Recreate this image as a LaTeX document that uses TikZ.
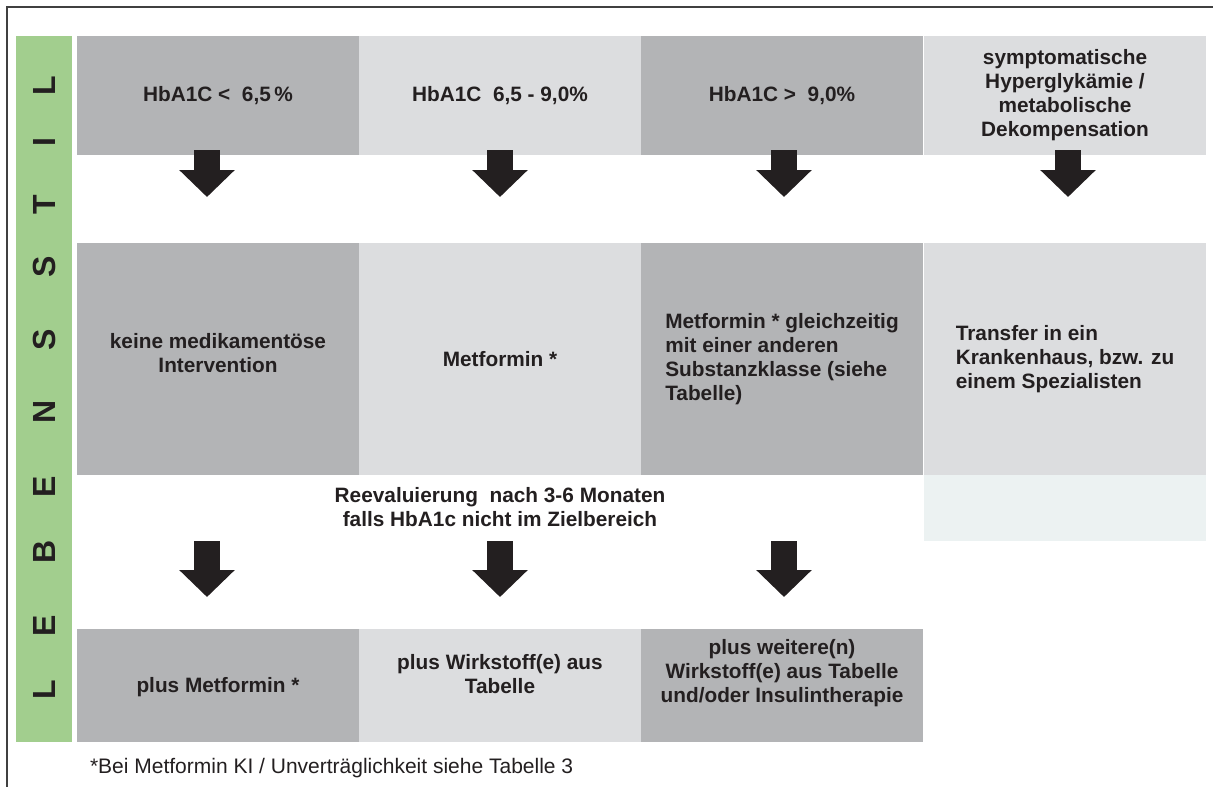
\documentclass[tikz,border=0pt]{standalone}
\usepackage{fontspec}
\setmainfont{Liberation Sans}
\usepackage{xcolor}
\usetikzlibrary{arrows.meta}

\definecolor{boxdark}{HTML}{B3B4B6}
\definecolor{boxlight}{HTML}{DCDDDF}
\definecolor{boxpale}{HTML}{ECF2F2}
\definecolor{barGreen}{HTML}{A2CE8E}
\definecolor{inkgrey}{HTML}{231F20}

\begin{document}
\begin{tikzpicture}[x=0.5pt,y=-0.5pt]
  \tikzstyle{every node}=[inner sep=0pt, outer sep=0pt, text=inkgrey, font=\fontsize{10.4}{12}\selectfont\bfseries]
  \tikzstyle{darkbox}=[fill=boxdark, minimum width=141pt, align=center]
  \tikzstyle{lightbox}=[fill=boxlight, minimum width=141pt, align=center]
  \tikzstyle{barletter}=[rotate=90, font=\fontsize{16}{16}\selectfont\bfseries]
  \tikzstyle{fatarrow}=[draw=inkgrey, line width=13pt, -{Triangle[width=27pt,length=13.5pt]}]
  \useasboundingbox (0,0) rectangle (1213,787);
  \draw[line width=0.8pt, draw=black!75] (1213,7) -- (7,7) -- (7,787);

  % side bar
  \node[fill=barGreen, minimum width=28pt, minimum height=353pt] (bar) at (44,389) {};
  \node[barletter] (b1) at (44,690) {L};
  \node[barletter] (b2) at (44,626) {E};
  \node[barletter] (b3) at (44,552) {B};
  \node[barletter] (b4) at (44,487) {E};
  \node[barletter] (b5) at (44,412) {N};
  \node[barletter] (b6) at (44,340) {S};
  \node[barletter] (b7) at (44,267) {S};
  \node[barletter] (b8) at (44,205) {T};
  \node[barletter] (b9) at (44,142) {I};
  \node[barletter] (b10) at (44,86) {L};

  % HbA1C ranges
  \node[darkbox, minimum height=59.5pt] (r1c1) at (218,95.5) {HbA1C <\ \ 6,5\,\%};
  \node[lightbox, minimum height=59.5pt] (r1c2) at (500,95.5) {HbA1C\ \ 6,5 - 9,0\%};
  \node[darkbox, minimum height=59.5pt] (r1c3) at (782,95.5) {HbA1C >\ \ 9,0\%};
  \node[lightbox, minimum height=59.5pt] (r1c4) at (1065,95.5) {symptomatische\\Hyperglykämie /\\metabolische\\Dekompensation};

  % therapy
  \node[darkbox, minimum height=116pt] (r2c1) at (218,359) {};
  \node[align=center] (t2c1) at ([yshift=3pt]r2c1.center) {keine medikamentöse\\Intervention};
  \node[lightbox, minimum height=116pt] (r2c2) at (500,359) {Metformin *};
  \node[darkbox, minimum height=116pt, align=left] (r2c3) at (782,359) {Metformin * gleichzeitig\\mit einer anderen\\Substanzklasse (siehe\\Tabelle)};
  \node[lightbox, minimum height=116pt, align=left] (r2c4) at (1065,359) {Transfer in ein\\Krankenhaus, bzw. zu\\einem Spezialisten};
  \node[fill=boxpale, minimum width=141pt, minimum height=33pt] (r2c4b) at (1065,508) {};

  \node[align=center] (reeval) at (500,507) {Reevaluierung\ \ nach 3-6 Monaten\\falls HbA1c nicht im Zielbereich};

  % escalation
  \node[darkbox, minimum height=56.5pt] (r3c1) at (218,685.5) {};
  \node (t3c1) at ([yshift=-1pt]r3c1.center) {plus Metformin *};
  \node[lightbox, minimum height=56.5pt] (r3c2) at (500,685.5) {};
  \node[align=center] (t3c2) at ([yshift=5.75pt]r3c2.center) {plus Wirkstoff(e) aus\\Tabelle};
  \node[darkbox, minimum height=56.5pt] (r3c3) at (782,685.5) {};
  \node[align=center] (t3c3) at ([yshift=6.25pt]r3c3.center) {plus weitere(n)\\Wirkstoff(e) aus Tabelle\\und/oder Insulintherapie};

  \node[anchor=west, font=\fontsize{10.5}{12}\selectfont] (note) at (90,768) {*Bei Metformin KI / Unverträglichkeit siehe Tabelle 3};

  % arrows
  \draw[fatarrow] ([xshift=-5.5pt,yshift=2.5pt]r1c1.south) -- ++(0,47);
  \draw[fatarrow] ([yshift=2.5pt]r1c2.south) -- ++(0,47);
  \draw[fatarrow] ([xshift=1pt,yshift=2.5pt]r1c3.south) -- ++(0,47);
  \draw[fatarrow] ([xshift=1.5pt,yshift=2.5pt]r1c4.south) -- ++(0,47);
  \draw[fatarrow] ([xshift=-5.5pt,yshift=-33pt]r2c1.south) -- ++(0,56);
  \draw[fatarrow] ([yshift=-33pt]r2c2.south) -- ++(0,56);
  \draw[fatarrow] ([xshift=1pt,yshift=-33pt]r2c3.south) -- ++(0,56);
\end{tikzpicture}
\end{document}
